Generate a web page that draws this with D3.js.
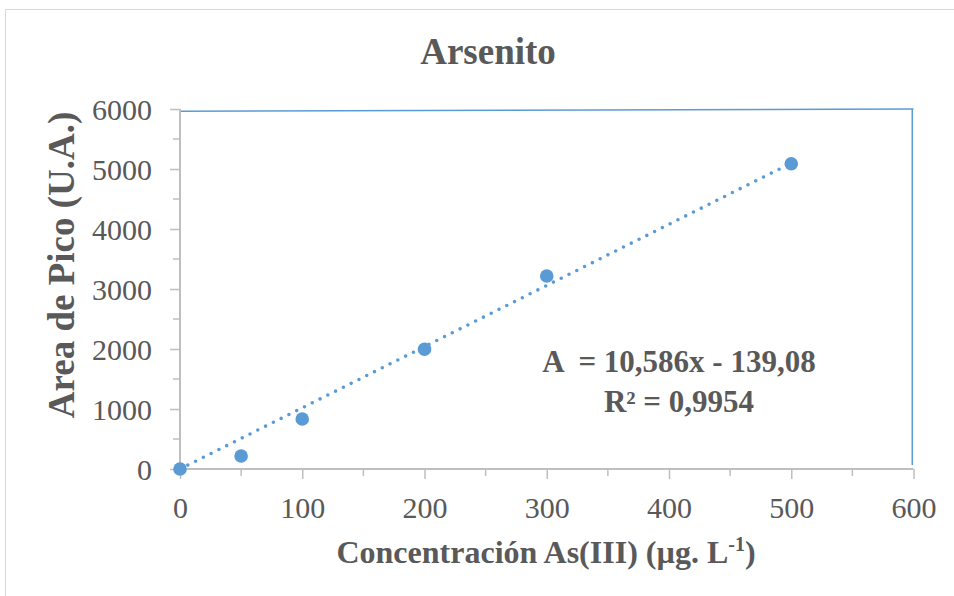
<!DOCTYPE html>
<html><head><meta charset="utf-8">
<script src="https://cdn.jsdelivr.net/npm/d3@7"></script>
<style>
html,body{margin:0;padding:0;background:#fff;}
svg{display:block;}
text{font-family:"Liberation Serif","Times New Roman",serif;fill:#595959;}
</style></head>
<body>
<svg id="chart" width="954" height="596"></svg>
<script>
// ---- data ----
const concentrations = [0, 50, 100, 200, 300, 500];
const areas = [0, 217, 833, 1995, 3217, 5088];
const xTicks = [0, 100, 200, 300, 400, 500, 600];
const yTicks = [0, 1000, 2000, 3000, 4000, 5000, 6000];
const title = "Arsenito";
const xTitle = "Concentración As(III) (µg. L";
const xTitleSup = "-1";
const yTitle = "Area de Pico (U.A.)";
const eqLine1 = "A  = 10,586x - 139,08";
const eqLine2 = "R² = 0,9954";

const svg = d3.select("#chart");
const W = 954, H = 596;
const m = {left:180, right:954-913.5, top:109, bottom:596-469};

const x = d3.scaleLinear().domain([0,600]).range([m.left, W-m.right]);
const y = d3.scaleLinear().domain([0,6000]).range([H-m.bottom, m.top]);

// outer chart border
svg.append("rect").attr("x",5.5).attr("y",9.5).attr("width",W).attr("height",H)
  .attr("fill","none").attr("stroke","#d9d9d9").attr("stroke-width",1);

// plot frame lines (blue, top & right)
svg.append("line").attr("x1",x(0)).attr("y1",y(5962)).attr("x2",x(600)).attr("y2",y(5998))
  .attr("stroke","#5b9bd5").attr("stroke-width",1.5);
svg.append("line").attr("x1",x(599)).attr("y1",y(5998)).attr("x2",x(599)).attr("y2",y(65))
  .attr("stroke","#5b9bd5").attr("stroke-width",1.5);

const axisColor = "#bfbfbf";

// minor ticks
const gMinor = svg.append("g");
d3.range(500, 6000, 1000).forEach(v=>{
  gMinor.append("line").attr("x1",x(0)-7).attr("x2",x(0)).attr("y1",y(v)).attr("y2",y(v))
    .attr("stroke",axisColor).attr("stroke-width",1.5);
});
d3.range(50, 600, 100).forEach(v=>{
  gMinor.append("line").attr("x1",x(v)).attr("x2",x(v)).attr("y1",y(0)).attr("y2",y(0)+7)
    .attr("stroke",axisColor).attr("stroke-width",1.5);
});

// axes
const xAxis = svg.append("g").attr("transform",`translate(0,${y(0)})`)
  .call(d3.axisBottom(x).tickValues(xTicks).tickSize(10).tickPadding(17).tickFormat(d3.format("d")));
const yAxis = svg.append("g").attr("transform",`translate(${x(0)},0)`)
  .call(d3.axisLeft(y).tickValues(yTicks).tickSize(10).tickPadding(18).tickFormat(d3.format("d")));
[xAxis,yAxis].forEach(g=>{
  g.select(".domain").attr("stroke",axisColor).attr("stroke-width",2);
  g.selectAll(".tick line").attr("stroke",axisColor).attr("stroke-width",1.5);
  g.selectAll(".tick text").attr("fill","#595959").style("font-family","'Liberation Serif', 'Times New Roman', serif").style("font-size","30px");
});
xAxis.select(".domain").attr("d",`M${x(0)},0H${x(600)}`);
yAxis.select(".domain").attr("d",`M0,${y(0)}V${y(6000)}`);
yAxis.selectAll(".tick text").attr("dy","0.35em");
xAxis.selectAll(".tick text").attr("dy","0.72em");

// trendline: least squares through origin
const sxy = d3.sum(concentrations.map((c,i)=>c*areas[i]));
const sxx = d3.sum(concentrations.map(c=>c*c));
const slope = sxy/sxx;
const xMax = d3.max(concentrations);
svg.append("line")
  .attr("x1",x(0)).attr("y1",y(0)).attr("x2",x(xMax)).attr("y2",y(slope*xMax))
  .attr("stroke","#5b9bd5").attr("stroke-width",3.6).attr("stroke-linecap","round")
  .attr("stroke-dasharray","0 8.7");

// points
svg.append("g").selectAll("circle").data(concentrations).join("circle")
  .attr("cx",d=>x(d)).attr("cy",(d,i)=>y(areas[i])).attr("r",6.8).attr("fill","#5b9bd5");

// title
svg.append("text").attr("x",488).attr("y",64).attr("text-anchor","middle")
  .style("font-size","37px").style("font-weight","bold").text(title);

// x title
const xt = svg.append("text").attr("x",546).attr("y",563).attr("text-anchor","middle")
  .style("font-size","32px").style("font-weight","bold");
xt.append("tspan").text(xTitle);
xt.append("tspan").attr("dy",-12).style("font-size","20px").text(xTitleSup);
xt.append("tspan").attr("dy",12).text(")");

// y title
svg.append("text").attr("transform","translate(74,265) rotate(-90)").attr("text-anchor","middle")
  .style("font-size","37px").style("font-weight","bold").text(yTitle);

// equation
svg.append("text").attr("x",679).attr("y",372).attr("text-anchor","middle")
  .style("font-size","31px").style("font-weight","bold").attr("xml:space","preserve").text(eqLine1);
svg.append("text").attr("x",679).attr("y",412).attr("text-anchor","middle")
  .style("font-size","31px").style("font-weight","bold").text(eqLine2);
</script>
</body></html>
